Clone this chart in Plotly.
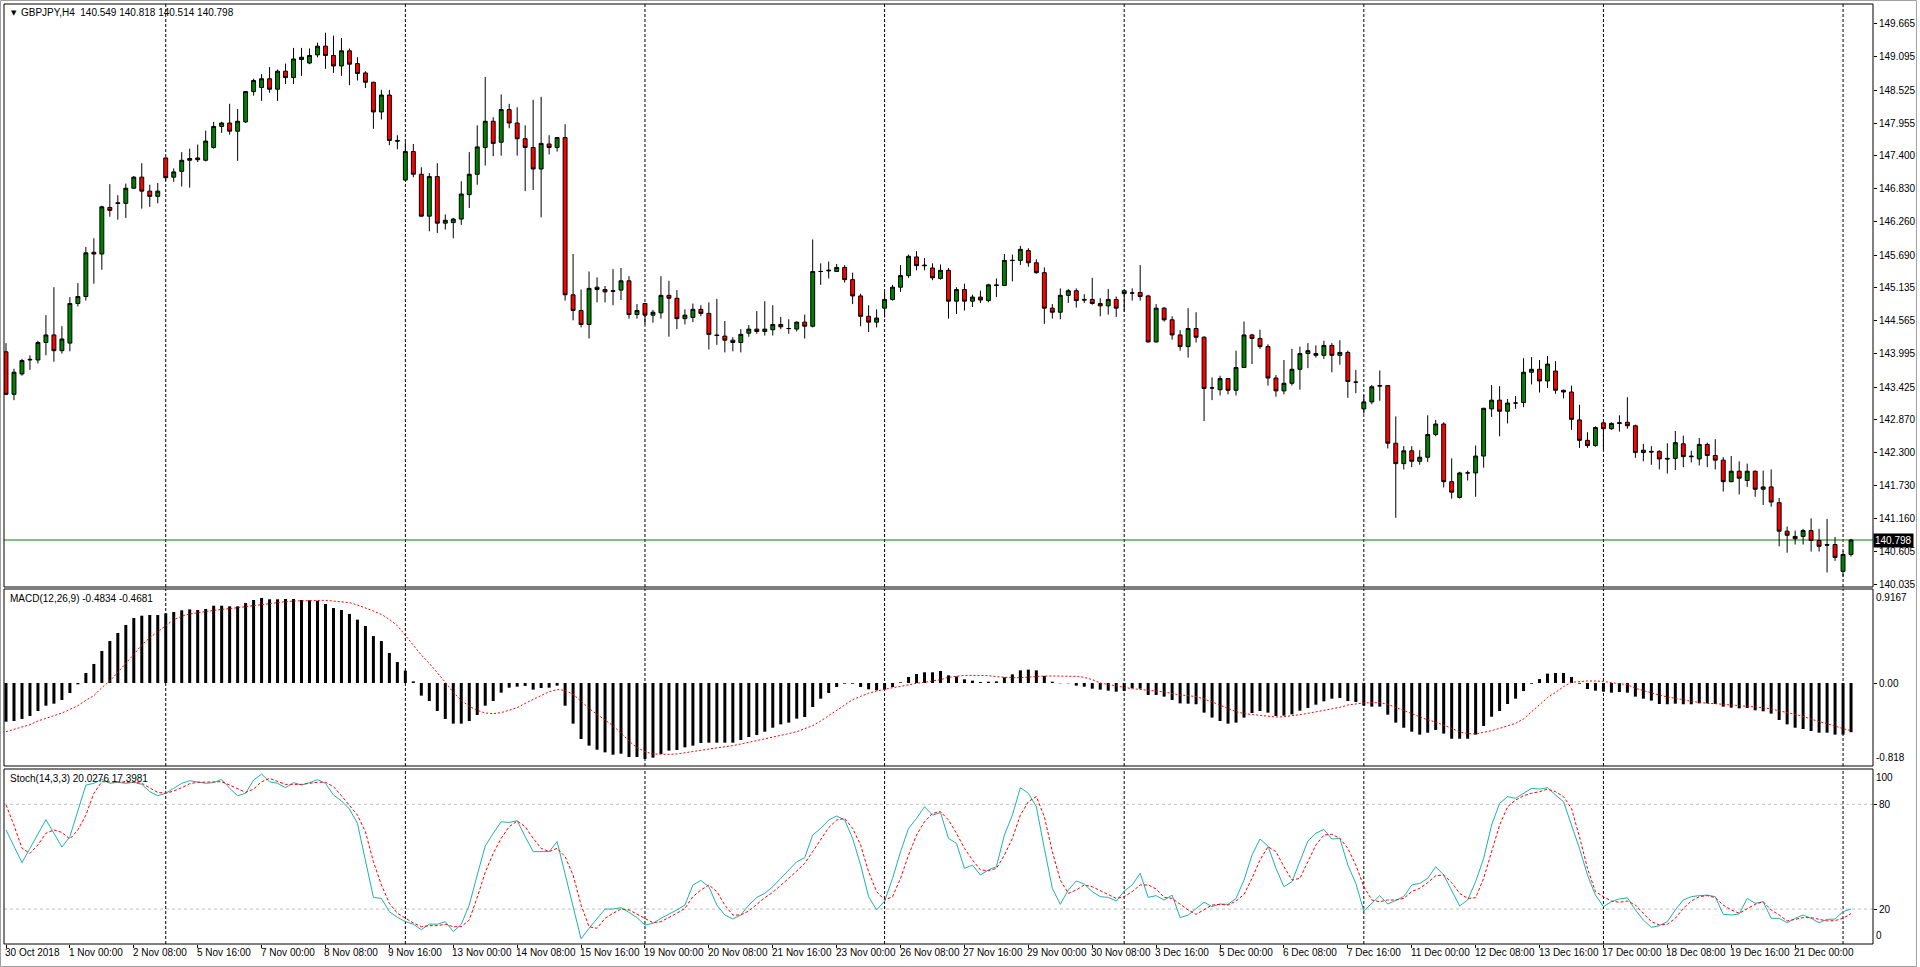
import plotly.graph_objects as go

# ---------------- data ----------------
opens = [
    144.03, 143.30, 143.65, 143.89, 143.89, 144.19, 144.32, 144.05, 144.18, 144.86,
    144.98, 145.74, 145.71, 146.51, 146.59, 146.58, 146.84, 147.03, 146.79, 146.70,
    147.36, 147.03, 147.13, 147.32, 147.36, 147.32, 147.54, 147.90, 147.96, 147.82,
    147.98, 148.50, 148.57, 148.72, 148.54, 148.85, 148.74, 149.05, 148.99, 149.13,
    149.28, 149.12, 148.94, 149.20, 148.98, 148.82, 148.66, 148.15, 148.44, 147.66,
    146.98, 147.47, 147.08, 146.36, 147.04, 146.24, 146.25, 146.31, 146.73, 147.08,
    147.54, 147.99, 147.63, 148.19, 147.96, 147.69, 147.54, 147.17, 147.60, 147.54,
    147.71, 145.01, 144.74, 144.50, 145.14, 145.10, 145.08, 145.09, 145.25, 144.67,
    144.86, 144.66, 144.70, 145.00, 144.95, 144.60, 144.62, 144.76, 144.69, 144.32,
    144.30, 144.23, 144.19, 144.35, 144.42, 144.38, 144.41, 144.50, 144.43, 144.42,
    144.54, 144.47, 145.41, 145.42, 145.41, 145.48, 145.27, 144.99, 144.64, 144.54,
    144.78, 144.93, 145.14, 145.34, 145.66, 145.52, 145.47, 145.29, 145.43, 144.90,
    145.10, 144.90, 144.97, 144.91, 145.18, 145.17, 145.60, 145.60, 145.77, 145.56,
    145.39, 144.78, 144.71, 145.00, 145.08, 144.93, 144.93, 144.86, 144.82, 144.93,
    145.08, 145.04, 145.05, 144.99, 144.20, 144.78, 144.58, 144.32, 144.12, 144.43,
    144.28, 143.41, 143.38, 143.57, 143.37, 143.76, 144.32, 144.26, 144.12, 143.58,
    143.36, 143.49, 143.73, 144.00, 144.00, 143.97, 144.14, 143.97, 144.02, 143.51,
    143.05, 143.17, 143.44, 143.45, 142.46, 142.11, 142.33, 142.15, 142.22, 142.61,
    142.79, 141.80, 141.53, 141.95, 141.95, 142.24, 143.05, 143.20, 143.01, 143.15,
    143.16, 143.68, 143.73, 143.53, 143.70, 143.37, 143.34, 142.86, 142.51, 142.42,
    142.81, 142.71, 142.80, 142.82, 142.76, 142.30, 142.32, 142.32, 142.20, 142.20,
    142.45, 142.24, 142.19, 142.44, 142.25, 142.17, 141.80, 141.98, 141.82, 141.98,
    141.67, 141.71, 141.44, 140.95, 140.82, 140.86, 140.96, 140.79, 140.72, 140.72,
    140.26, 140.549,
]
highs = [
    144.18, 143.74, 143.91, 143.97, 144.22, 144.66, 145.14, 144.47, 144.97, 145.21,
    145.83, 145.98, 146.54, 146.91, 146.72, 146.92, 147.05, 147.27, 146.90, 146.93,
    147.37, 147.18, 147.46, 147.52, 147.59, 147.83, 147.98, 147.98, 148.29, 148.20,
    148.51, 148.72, 148.80, 148.92, 148.88, 148.98, 149.25, 149.25, 149.24, 149.34,
    149.51, 149.46, 149.42, 149.24, 149.09, 148.85, 148.67, 148.53, 148.53, 147.75,
    147.63, 147.60, 147.20, 147.10, 147.27, 146.39, 146.33, 146.96, 147.46, 147.92,
    148.75, 148.06, 148.45, 148.29, 148.23, 147.92, 148.36, 148.41, 147.75, 147.72,
    147.94, 145.71, 145.10, 145.41, 145.31, 145.16, 145.45, 145.47, 145.33, 144.85,
    144.87, 144.75, 145.33, 145.25, 145.09, 144.76, 144.86, 144.83, 144.88, 144.94,
    144.56, 144.28, 144.42, 144.49, 144.73, 144.90, 144.83, 144.63, 144.59, 144.55,
    144.67, 145.96, 145.55, 145.58, 145.54, 145.52, 145.39, 145.03, 144.83, 144.76,
    145.06, 145.18, 145.52, 145.70, 145.76, 145.64, 145.55, 145.53, 145.47, 145.14,
    145.20, 145.01, 145.08, 145.20, 145.29, 145.71, 145.70, 145.85, 145.81, 145.62,
    145.48, 144.85, 145.12, 145.11, 145.12, 145.02, 145.30, 144.95, 145.11, 144.98,
    145.10, 145.12, 145.52, 145.01, 144.85, 144.80, 144.64, 144.40, 144.78, 144.71,
    144.30, 143.59, 143.62, 143.58, 144.05, 144.55, 144.34, 144.41, 144.16, 143.63,
    143.89, 144.08, 144.12, 144.18, 144.14, 144.22, 144.18, 144.23, 144.05, 143.72,
    143.29, 143.46, 143.71, 143.45, 142.92, 142.41, 142.41, 142.34, 142.94, 142.86,
    142.82, 142.20, 141.97, 141.99, 142.42, 143.07, 143.46, 143.44, 143.22, 143.27,
    143.92, 143.94, 143.89, 143.96, 143.87, 143.38, 143.45, 143.12, 142.65, 142.75,
    142.82, 142.82, 142.94, 143.25, 142.78, 142.45, 142.41, 142.34, 142.46, 142.67,
    142.59, 142.33, 142.55, 142.47, 142.53, 142.22, 142.24, 142.15, 142.11, 141.99,
    141.99, 142.01, 141.52, 141.03, 140.96, 140.99, 141.17, 140.99, 141.16, 140.85,
    140.61, 140.818,
]
lows = [
    143.29, 143.20, 143.62, 143.72, 143.83, 143.97, 143.86, 144.00, 144.04, 144.81,
    144.91, 145.20, 145.44, 146.35, 146.30, 146.33, 146.83, 146.49, 146.52, 146.58,
    146.97, 146.95, 146.87, 146.85, 147.29, 147.30, 147.52, 147.79, 147.76, 147.31,
    147.96, 148.43, 148.34, 148.48, 148.34, 148.63, 148.63, 148.77, 148.97, 149.09,
    148.89, 148.82, 148.77, 148.61, 148.69, 148.56, 147.86, 148.02, 147.58, 147.51,
    146.97, 147.03, 146.35, 146.10, 146.07, 146.13, 145.98, 146.21, 146.50, 146.90,
    147.23, 147.39, 147.40, 147.87, 147.40, 146.79, 146.81, 146.34, 147.42, 147.47,
    144.91, 144.57, 144.45, 144.26, 144.88, 144.88, 144.83, 144.92, 144.60, 144.60,
    144.50, 144.53, 144.60, 144.29, 144.42, 144.50, 144.54, 144.64, 144.07, 144.15,
    144.02, 144.04, 144.02, 144.29, 144.34, 144.31, 144.31, 144.42, 144.34, 144.38,
    144.26, 144.45, 145.18, 145.29, 145.40, 145.22, 144.85, 144.47, 144.37, 144.45,
    144.62, 144.91, 145.06, 145.30, 145.43, 145.43, 145.26, 145.27, 144.60, 144.68,
    144.74, 144.80, 144.87, 144.88, 144.97, 145.17, 145.24, 145.52, 145.49, 145.37,
    144.51, 144.60, 144.59, 144.87, 144.79, 144.87, 144.84, 144.64, 144.67, 144.63,
    144.72, 144.91, 144.91, 144.19, 144.19, 144.55, 144.24, 144.05, 143.93, 144.19,
    142.84, 143.20, 143.28, 143.30, 143.28, 143.76, 143.82, 144.08, 143.45, 143.26,
    143.30, 143.45, 143.38, 143.75, 143.93, 143.91, 143.68, 143.81, 143.24, 143.32,
    142.97, 143.13, 143.19, 142.37, 141.18, 142.01, 142.05, 142.09, 142.14, 142.58,
    141.70, 141.51, 141.51, 141.82, 141.54, 142.04, 142.91, 142.58, 142.80, 143.05,
    143.08, 143.47, 143.33, 143.41, 143.31, 143.23, 142.69, 142.38, 142.38, 142.40,
    142.34, 142.69, 142.66, 142.71, 142.21, 142.15, 142.09, 142.01, 141.94, 142.00,
    142.05, 142.13, 142.08, 142.05, 142.01, 141.63, 141.79, 141.58, 141.71, 141.54,
    141.40, 141.37, 140.69, 140.58, 140.72, 140.72, 140.60, 140.60, 140.24, 140.44,
    140.17, 140.514,
]
closes = [
    143.30, 143.68, 143.88, 143.90, 144.19, 144.32, 144.05, 144.25, 144.86, 144.98,
    145.73, 145.71, 146.52, 146.46, 146.58, 146.84, 147.03, 146.79, 146.70, 146.79,
    147.02, 147.12, 147.32, 147.35, 147.33, 147.65, 147.90, 147.96, 147.82, 147.99,
    148.50, 148.69, 148.72, 148.54, 148.85, 148.74, 149.06, 149.09, 149.12, 149.28,
    149.12, 148.94, 149.20, 148.97, 148.81, 148.66, 148.15, 148.44, 147.66, 147.65,
    147.47, 147.08, 146.36, 147.04, 146.24, 146.29, 146.31, 146.74, 147.08, 147.55,
    147.99, 147.61, 148.19, 147.96, 147.69, 147.54, 147.17, 147.61, 147.54, 147.71,
    145.01, 144.74, 144.50, 145.12, 145.10, 145.06, 145.07, 145.25, 144.67, 144.74,
    144.66, 144.71, 145.00, 144.95, 144.60, 144.66, 144.76, 144.69, 144.33, 144.31,
    144.23, 144.19, 144.33, 144.42, 144.38, 144.42, 144.50, 144.46, 144.43, 144.54,
    144.47, 145.41, 145.41, 145.43, 145.48, 145.27, 144.99, 144.64, 144.54, 144.61,
    144.93, 145.14, 145.34, 145.67, 145.51, 145.51, 145.30, 145.43, 144.90, 145.10,
    144.90, 144.97, 144.92, 145.18, 145.17, 145.60, 145.60, 145.79, 145.56, 145.39,
    144.78, 144.71, 145.00, 145.08, 144.91, 144.92, 144.86, 144.82, 144.93, 144.78,
    145.03, 145.04, 144.98, 144.20, 144.78, 144.58, 144.32, 144.12, 144.43, 144.28,
    143.40, 143.41, 143.57, 143.37, 143.76, 144.32, 144.26, 144.12, 143.58, 143.36,
    143.49, 143.73, 144.00, 144.05, 143.97, 144.14, 143.97, 144.02, 143.52, 143.51,
    143.17, 143.43, 143.45, 142.46, 142.11, 142.33, 142.15, 142.22, 142.61, 142.79,
    141.80, 141.62, 141.95, 141.95, 142.24, 143.06, 143.20, 143.01, 143.15, 143.15,
    143.68, 143.73, 143.53, 143.82, 143.37, 143.34, 142.87, 142.51, 142.42, 142.73,
    142.71, 142.80, 142.81, 142.76, 142.30, 142.34, 142.31, 142.19, 142.19, 142.47,
    142.23, 142.23, 142.44, 142.25, 142.17, 141.80, 141.98, 141.86, 141.98, 141.67,
    141.71, 141.45, 140.95, 140.88, 140.86, 140.96, 140.79, 140.69, 140.71, 140.50,
    140.55, 140.798,
]
macd_main = [
    -0.380, -0.373, -0.353, -0.324, -0.275, -0.223, -0.203, -0.167, -0.098, -0.013,
    0.098, 0.187, 0.314, 0.412, 0.491, 0.570, 0.638, 0.661, 0.668, 0.668,
    0.684, 0.697, 0.714, 0.723, 0.717, 0.727, 0.759, 0.759, 0.753, 0.753,
    0.786, 0.815, 0.835, 0.822, 0.822, 0.825, 0.825, 0.815, 0.812, 0.808,
    0.776, 0.736, 0.717, 0.678, 0.622, 0.560, 0.461, 0.412, 0.295, 0.206,
    0.121, 0.016, -0.124, -0.177, -0.275, -0.353, -0.399, -0.399, -0.373, -0.314,
    -0.223, -0.177, -0.095, -0.046, -0.036, -0.029, -0.065, -0.049, -0.046, -0.026,
    -0.223, -0.399, -0.550, -0.615, -0.655, -0.681, -0.704, -0.694, -0.727, -0.727,
    -0.746, -0.733, -0.697, -0.664, -0.658, -0.632, -0.615, -0.589, -0.586, -0.586,
    -0.586, -0.586, -0.560, -0.530, -0.511, -0.478, -0.439, -0.406, -0.389, -0.350,
    -0.334, -0.236, -0.154, -0.098, -0.039, -0.007, -0.007, -0.039, -0.062, -0.072,
    -0.065, -0.039, 0.007, 0.059, 0.088, 0.105, 0.105, 0.118, 0.075, 0.065,
    0.036, 0.023, 0.010, 0.013, 0.016, 0.056, 0.085, 0.124, 0.131, 0.124,
    0.069, 0.013, -0.003, -0.003, -0.026, -0.036, -0.056, -0.065, -0.075, -0.085,
    -0.079, -0.052, -0.056, -0.118, -0.118, -0.134, -0.167, -0.200, -0.203, -0.209,
    -0.291, -0.340, -0.373, -0.399, -0.389, -0.340, -0.295, -0.275, -0.291, -0.324,
    -0.321, -0.308, -0.272, -0.245, -0.213, -0.180, -0.154, -0.147, -0.177, -0.187,
    -0.223, -0.232, -0.232, -0.311, -0.389, -0.439, -0.478, -0.507, -0.488, -0.461,
    -0.497, -0.547, -0.547, -0.547, -0.507, -0.422, -0.331, -0.275, -0.206, -0.154,
    -0.079, -0.007, 0.039, 0.092, 0.098, 0.098, 0.059, -0.007, -0.059, -0.075,
    -0.085, -0.095, -0.088, -0.095, -0.134, -0.154, -0.173, -0.206, -0.209, -0.203,
    -0.209, -0.209, -0.200, -0.200, -0.206, -0.232, -0.242, -0.249, -0.245, -0.268,
    -0.278, -0.301, -0.363, -0.406, -0.439, -0.452, -0.471, -0.488, -0.488, -0.507,
    -0.507, -0.4834,
]
macd_signal = [
    -0.478, -0.455, -0.435, -0.409, -0.373, -0.344, -0.321, -0.295, -0.262, -0.223,
    -0.170, -0.124, -0.046, 0.020, 0.105, 0.190, 0.281, 0.373, 0.445, 0.504,
    0.563, 0.622, 0.655, 0.678, 0.691, 0.704, 0.714, 0.723, 0.730, 0.740,
    0.753, 0.759, 0.769, 0.779, 0.789, 0.799, 0.805, 0.808, 0.812, 0.812,
    0.812, 0.805, 0.799, 0.789, 0.766, 0.740, 0.707, 0.674, 0.625, 0.563,
    0.465, 0.373, 0.275, 0.193, 0.105, 0.007, -0.092, -0.170, -0.229, -0.268,
    -0.295, -0.301, -0.291, -0.265, -0.242, -0.200, -0.160, -0.118, -0.085, -0.065,
    -0.072, -0.111, -0.183, -0.249, -0.308, -0.363, -0.419, -0.491, -0.570, -0.635,
    -0.674, -0.697, -0.700, -0.700, -0.697, -0.687, -0.674, -0.661, -0.648, -0.638,
    -0.628, -0.615, -0.599, -0.583, -0.566, -0.550, -0.534, -0.517, -0.497, -0.478,
    -0.452, -0.419, -0.373, -0.321, -0.268, -0.216, -0.164, -0.131, -0.101, -0.079,
    -0.059, -0.046, -0.033, -0.016, -0.003, 0.007, 0.020, 0.033, 0.056, 0.069,
    0.075, 0.075, 0.075, 0.072, 0.062, 0.056, 0.052, 0.052, 0.059, 0.062,
    0.069, 0.069, 0.069, 0.069, 0.065, 0.056, 0.033, 0.000, -0.016, -0.026,
    -0.043, -0.056, -0.062, -0.069, -0.079, -0.088, -0.105, -0.118, -0.124, -0.134,
    -0.157, -0.183, -0.216, -0.249, -0.281, -0.301, -0.311, -0.314, -0.327, -0.334,
    -0.331, -0.324, -0.311, -0.298, -0.285, -0.272, -0.259, -0.239, -0.216, -0.203,
    -0.196, -0.193, -0.193, -0.209, -0.242, -0.275, -0.301, -0.331, -0.363, -0.383,
    -0.412, -0.445, -0.481, -0.497, -0.501, -0.488, -0.468, -0.445, -0.422, -0.396,
    -0.353, -0.281, -0.216, -0.144, -0.092, -0.036, 0.007, 0.016, 0.020, 0.020,
    0.016, 0.003, -0.007, -0.016, -0.052, -0.075, -0.101, -0.118, -0.137, -0.147,
    -0.164, -0.180, -0.193, -0.200, -0.203, -0.209, -0.216, -0.219, -0.226, -0.232,
    -0.242, -0.255, -0.275, -0.295, -0.308, -0.327, -0.357, -0.380, -0.399, -0.425,
    -0.448, -0.4681,
]
stoch_k = [
    65.3, 55.7, 46.6, 54.8, 63.4, 71.2, 63.4, 55.5, 61.5, 75.8,
    91.0, 92.0, 94.3, 92.0, 92.6, 92.0, 92.6, 91.4, 87.2, 84.9,
    86.3, 89.1, 92.0, 93.5, 92.9, 92.0, 92.4, 94.3, 89.1, 84.9,
    86.3, 93.9, 97.3, 92.9, 92.0, 89.5, 92.4, 91.0, 92.4, 94.1,
    92.0, 85.3, 81.9, 77.3, 69.1, 47.1, 26.7, 26.1, 18.5, 15.3,
    12.8, 11.3, 8.2, 11.4, 11.3, 12.8, 7.1, 11.3, 22.3, 39.5,
    56.1, 63.4, 70.0, 69.6, 70.6, 61.5, 52.9, 52.9, 52.9, 58.6,
    39.5, 21.4, 2.9, 9.0, 14.7, 20.0, 20.0, 20.8, 18.1, 15.1,
    10.9, 11.8, 14.7, 17.0, 19.5, 22.3, 33.8, 36.4, 32.8, 22.3,
    16.6, 14.3, 16.6, 22.3, 26.7, 29.0, 32.8, 37.6, 42.4, 47.1,
    49.4, 62.4, 66.2, 71.0, 73.3, 71.0, 60.5, 45.2, 27.1, 19.5,
    24.6, 37.6, 52.9, 66.2, 71.9, 78.6, 73.8, 75.2, 60.5, 57.6,
    43.3, 45.2, 39.5, 42.4, 44.3, 62.4, 73.8, 89.5, 86.3, 78.6,
    54.8, 31.9, 22.7, 30.9, 36.1, 34.3, 30.0, 27.1, 26.7, 24.6,
    30.3, 33.8, 40.5, 26.7, 27.7, 25.2, 28.0, 15.1, 16.6, 20.4,
    23.9, 21.4, 22.9, 22.7, 26.1, 36.6, 50.9, 60.1, 56.1, 43.3,
    32.8, 35.7, 47.1, 59.0, 63.4, 65.6, 60.1, 60.5, 45.2, 34.7,
    18.9, 23.3, 27.7, 22.9, 25.2, 27.1, 33.8, 34.7, 37.6, 44.3,
    39.5, 30.9, 21.8, 25.2, 35.7, 49.0, 68.1, 80.5, 84.4, 83.4,
    86.3, 89.1, 88.7, 89.5, 85.3, 81.5, 68.1, 54.8, 39.5, 28.0,
    21.4, 24.2, 25.8, 26.5, 19.5, 13.7, 9.5, 10.5, 12.8, 19.5,
    25.2, 27.1, 27.7, 28.0, 27.1, 17.0, 16.6, 17.2, 26.1, 23.3,
    24.2, 14.7, 14.7, 12.2, 14.7, 16.6, 14.7, 12.2, 14.1, 14.3,
    18.5, 20.0276,
]
stoch_d = [
    79.6, 68.1, 54.8, 51.9, 56.7, 63.4, 65.3, 63.9, 60.1, 65.3,
    73.8, 86.3, 92.9, 92.9, 92.6, 92.6, 92.6, 92.0, 89.5, 86.8,
    86.3, 87.6, 89.5, 91.8, 92.6, 92.6, 92.6, 92.9, 91.0, 88.9,
    86.8, 88.7, 92.9, 94.8, 93.3, 91.4, 91.4, 91.4, 92.0, 92.6,
    92.6, 90.1, 84.9, 79.6, 73.8, 64.3, 47.1, 33.8, 23.3, 17.6,
    14.7, 12.0, 9.9, 10.5, 10.5, 11.3, 9.9, 9.9, 13.7, 26.7,
    41.0, 51.9, 60.5, 67.2, 70.4, 67.2, 60.5, 54.8, 52.9, 54.8,
    50.0, 39.5, 22.3, 9.9, 9.0, 14.7, 17.6, 20.0, 19.5, 17.0,
    14.7, 12.2, 12.8, 15.1, 17.6, 20.4, 27.1, 30.9, 33.8, 30.0,
    22.3, 16.6, 16.6, 18.9, 22.7, 26.5, 29.6, 33.4, 37.6, 41.8,
    46.2, 52.9, 59.5, 66.6, 71.0, 71.9, 66.2, 56.7, 41.4, 30.0,
    25.2, 27.1, 37.6, 50.9, 62.4, 70.0, 74.8, 75.8, 71.0, 63.4,
    54.8, 48.1, 42.4, 42.0, 43.3, 50.9, 60.5, 73.8, 81.5, 84.4,
    72.9, 52.9, 36.6, 29.0, 30.9, 33.8, 32.8, 30.5, 28.0, 26.1,
    27.1, 30.0, 33.8, 33.8, 31.5, 26.7, 26.1, 22.7, 19.5, 17.0,
    19.5, 22.3, 22.7, 22.3, 24.6, 28.4, 37.6, 48.1, 55.7, 52.9,
    44.3, 36.6, 37.6, 47.1, 56.7, 62.4, 62.8, 60.5, 54.8, 45.2,
    32.8, 25.2, 24.2, 25.2, 25.2, 26.1, 30.0, 31.9, 35.1, 39.1,
    39.5, 35.1, 29.0, 26.1, 26.5, 37.6, 52.9, 68.1, 78.6, 82.4,
    84.9, 86.3, 87.2, 88.7, 87.2, 84.4, 77.7, 61.4, 43.3, 30.0,
    27.1, 24.6, 23.9, 24.6, 22.3, 17.6, 12.8, 10.9, 11.3, 14.7,
    20.4, 24.6, 27.1, 27.7, 26.5, 22.3, 19.5, 17.6, 20.4, 22.7,
    24.2, 19.5, 16.6, 13.2, 14.1, 15.1, 15.1, 14.1, 13.2, 13.4,
    14.7, 17.3981,
]
price_ticks = [149.665, 149.095, 148.525, 147.955, 147.400, 146.830, 146.260,
               145.690, 145.135, 144.565, 143.995, 143.425, 142.870, 142.300,
               141.730, 141.160, 140.605, 140.035]
time_labels = ["30 Oct 2018", "1 Nov 00:00", "2 Nov 08:00", "5 Nov 16:00",
               "7 Nov 00:00", "8 Nov 08:00", "9 Nov 16:00", "13 Nov 00:00",
               "14 Nov 08:00", "15 Nov 16:00", "19 Nov 00:00", "20 Nov 08:00",
               "21 Nov 16:00", "23 Nov 00:00", "26 Nov 08:00", "27 Nov 16:00",
               "29 Nov 00:00", "30 Nov 08:00", "3 Dec 16:00", "5 Dec 00:00",
               "6 Dec 08:00", "7 Dec 16:00", "11 Dec 00:00", "12 Dec 08:00",
               "13 Dec 16:00", "17 Dec 00:00", "18 Dec 08:00", "19 Dec 16:00",
               "21 Dec 00:00"]
symbol = "GBPJPY,H4"
macd_scale = (-0.818, 0.9167)
stoch_scale = (0, 100)
stoch_levels = [80, 20]

# ---------------- layout geometry ----------------
n = len(closes)
bars = list(range(n))
label_step = 8
label_bars = [i * label_step for i in range(len(time_labels))]
grid_bars = list(range(20, n, 30))

W, H = 1920, 967
ML, MR, MT, MB = 4, 44, 4, 23
PW, PH = W - ML - MR, H - MT - MB


def px(x):
    return (x - ML) / PW


def py(y):
    return (H - MB - y) / PH


FONT = "Liberation Sans, Arial, sans-serif"
GREEN = "#008000"
RED = "#ff0000"

fig = go.Figure()
fig.add_trace(go.Candlestick(
    x=bars, open=opens, high=highs, low=lows, close=closes,
    xaxis="x", yaxis="y", whiskerwidth=0,
    increasing=dict(line=dict(color="black", width=1), fillcolor=GREEN),
    decreasing=dict(line=dict(color="black", width=1), fillcolor=RED),
    hoverinfo="skip", showlegend=False))
fig.add_trace(go.Bar(
    x=bars, y=macd_main, xaxis="x2", yaxis="y2", width=0.375,
    marker=dict(color="black", line=dict(width=0)), hoverinfo="skip"))
fig.add_trace(go.Scatter(
    x=bars, y=macd_signal, xaxis="x2", yaxis="y2", mode="lines",
    line=dict(color=RED, width=1, dash="2px,2px"), hoverinfo="skip"))
fig.add_trace(go.Scatter(
    x=bars, y=stoch_k, xaxis="x3", yaxis="y3", mode="lines",
    line=dict(color="#20b2aa", width=1), hoverinfo="skip"))
fig.add_trace(go.Scatter(
    x=bars, y=stoch_d, xaxis="x3", yaxis="y3", mode="lines",
    line=dict(color=RED, width=1, dash="3px,2px"), hoverinfo="skip"))

xr = [-0.25, n + 1.75]
common_x = dict(range=xr, showgrid=False, zeroline=False, showline=False,
                showticklabels=False, fixedrange=True)
ax_font = dict(family=FONT, size=10, color="black")
tick_font = dict(family=FONT, size=10, color="black")

fig.update_layout(
    width=W, height=H, autosize=False,
    margin=dict(l=ML, r=MR, t=MT, b=MB, pad=0),
    paper_bgcolor="white", plot_bgcolor="white",
    showlegend=False, hovermode=False,
    font=ax_font,
    boxgap=0.3, boxgroupgap=0.3,
    xaxis=dict(domain=[0, 1], anchor="y", rangeslider=dict(visible=False),
               ticks="", **common_x),
    xaxis2=dict(domain=[0, 1], anchor="y2", matches="x", ticks="", **common_x),
    xaxis3=dict(domain=[0, 1], anchor="y3", matches="x", ticks="outside",
                ticklen=3, tickcolor="black", tickvals=label_bars, **common_x),
    yaxis=dict(domain=[py(587), 1], range=[139.991, 150.004], anchor="x",
               side="right", showgrid=False, zeroline=False, showline=False,
               tickvals=price_ticks, ticktext=[f"{v:.3f}" for v in price_ticks],
               ticks="outside", ticklen=3, tickcolor="black", tickfont=tick_font,
               fixedrange=True),
    yaxis2=dict(domain=[py(766), py(589)], range=[-0.815, 0.923], anchor="x2",
                side="right", showgrid=False, zeroline=False, showline=False,
                tickvals=[0], ticktext=["0.00"], ticks="outside", ticklen=3,
                tickcolor="black", tickfont=tick_font, fixedrange=True),
    yaxis3=dict(domain=[0, py(769)], range=[0, 100.2], anchor="x3",
                side="right", showgrid=False, zeroline=False, showline=False,
                tickvals=stoch_levels, ticktext=[str(v) for v in stoch_levels],
                ticks="outside", ticklen=3, tickcolor="black",
                tickfont=tick_font, fixedrange=True),
)

shapes = []
# vertical dotted grid lines through all panes
for g in grid_bars:
    for xa, ya in (("x", "y"), ("x2", "y2"), ("x3", "y3")):
        shapes.append(dict(type="line", xref=xa, yref=ya + " domain",
                           x0=g, x1=g, y0=0, y1=1, layer="below",
                           line=dict(color="black", width=1, dash="3px,2px")))
# stochastic level lines
for lv in stoch_levels:
    shapes.append(dict(type="line", xref="x3 domain", yref="y3", x0=0, x1=1,
                       y0=lv, y1=lv, layer="below",
                       line=dict(color="#c0c0c0", width=1, dash="3px,3px")))
# bid line
shapes.append(dict(type="line", xref="x domain", yref="y", x0=0, x1=1,
                   y0=closes[-1], y1=closes[-1], layer="below",
                   line=dict(color=GREEN, width=1)))
# pane frames
for xa, ya in (("x", "y"), ("x2", "y2"), ("x3", "y3")):
    shapes.append(dict(type="rect", xref=xa + " domain", yref=ya + " domain",
                       x0=0, x1=1, y0=0, y1=1,
                       line=dict(color="black", width=1)))
# window frame
shapes.append(dict(type="rect", xref="paper", yref="paper",
                   x0=px(0.5), x1=px(W - 0.5), y0=py(H - 0.5), y1=py(0.5),
                   line=dict(color="#a0a0a0", width=1)))
fig.update_layout(shapes=shapes)

ann = []
# time labels (left-aligned at their bar, MT4 style)
for b, t in zip(label_bars, time_labels):
    ann.append(dict(x=b, xref="x3", y=0, yref="paper", text=t,
                    xanchor="left", yanchor="top", showarrow=False,
                    xshift=-3, yshift=-1, font=ax_font))
# pane headers
ann.append(dict(x=px(9), y=py(12.5), xref="paper", yref="paper", text="▼",
                xanchor="left", yanchor="middle", showarrow=False,
                font=dict(family="DejaVu Sans", size=7, color="black")))
hdr = (f"{symbol}\u00a0\u00a0{opens[-1]:.3f} {highs[-1]:.3f} "
       f"{lows[-1]:.3f} {closes[-1]:.3f}")
ann.append(dict(x=px(19), y=py(12.5), xref="paper", yref="paper", text=hdr,
                xanchor="left", yanchor="middle", showarrow=False,
                font=ax_font))
ann.append(dict(x=px(8), y=py(598.5), xref="paper", yref="paper",
                text=f"MACD(12,26,9) {macd_main[-1]:.4f} {macd_signal[-1]:.4f}",
                xanchor="left", yanchor="middle", showarrow=False,
                font=ax_font))
ann.append(dict(x=px(8), y=py(778), xref="paper", yref="paper",
                text=f"Stoch(14,3,3) {stoch_k[-1]:.4f} {stoch_d[-1]:.4f}",
                xanchor="left", yanchor="middle", showarrow=False,
                font=ax_font))
# indicator scale extremes (drawn inside the pane edges as MT4 does)
ann.append(dict(x=px(1877), y=py(590), xref="paper", yref="paper",
                text=f"{macd_scale[1]:.4f}", xanchor="left", yanchor="top",
                showarrow=False, font=tick_font))
ann.append(dict(x=px(1877), y=py(765), xref="paper", yref="paper",
                text=f"{macd_scale[0]:.3f}", xanchor="left", yanchor="bottom",
                showarrow=False, font=tick_font))
ann.append(dict(x=px(1877), y=py(770), xref="paper", yref="paper",
                text=str(stoch_scale[1]), xanchor="left", yanchor="top",
                showarrow=False, font=tick_font))
ann.append(dict(x=px(1877), y=py(943), xref="paper", yref="paper",
                text=str(stoch_scale[0]), xanchor="left", yanchor="bottom",
                showarrow=False, font=tick_font))
# current price tag
ann.append(dict(x=px(1876), y=closes[-1], xref="paper", yref="y",
                text=f"{closes[-1]:.3f}", xanchor="left", yanchor="middle",
                showarrow=False, bgcolor="black", borderpad=1,
                font=dict(family=FONT, size=10, color="white")))
fig.update_layout(annotations=ann)

# the page itself must not add a margin (the figure fills the whole window)
page_css = ("document.body.style.margin='0';"
            "document.body.style.padding='0';"
            "document.body.style.overflow='hidden';"
            "document.documentElement.style.overflow='hidden';")
fig.write_html("out.html", post_script=page_css,
               config={"displayModeBar": False, "staticPlot": True})
